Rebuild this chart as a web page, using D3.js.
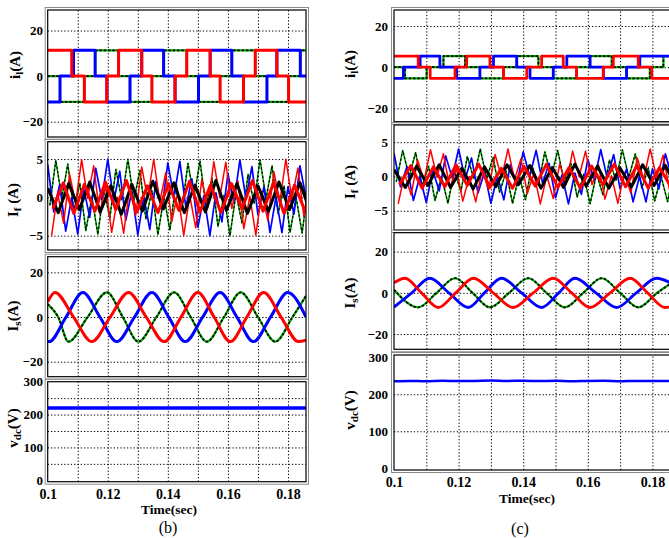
<!DOCTYPE html>
<html><head><meta charset="utf-8">
<script src="https://cdn.jsdelivr.net/npm/d3@7"></script>
<style>
body{margin:0;background:#fff}
svg{display:block}
text{font-family:"Liberation Serif","Times New Roman",serif;fill:#000}
</style>
</head><body>
<svg id="chart" width="669" height="538"></svg>
<script>
// ---------------- DATA ----------------
const timeDomain = [0.1, 0.186];
const xTickValues = [0.1, 0.12, 0.14, 0.16, 0.18];
const xGridValues = [0.11, 0.12, 0.13, 0.14, 0.15, 0.16, 0.17, 0.18];
const currentTicks = [-20, 0, 20];
const filterTicks = [-5, 0, 5];
const vdcTicks = [0, 100, 200, 300];
const vdcGridB = [50, 100, 150, 200, 250];
const vdcGridC = [100, 200];

// load current i_l (step levels, [time, A]) - case (b)
const iLRedB = [[0.1,11.3],[0.1080,0],[0.1122,-11.3],[0.1197,0],[0.1236,11.3],[0.1313,0],[0.1347,-11.3],[0.1424,0],[0.1463,11.3],[0.1541,0],[0.1574,-11.3],[0.1652,0],[0.1691,11.3],[0.1763,0],[0.1802,-11.3],[0.186,-11.3]];
const iLBlueB = [[0.1,-11.3],[0.1041,0],[0.1086,11.3],[0.1158,0],[0.1197,-11.3],[0.1274,0],[0.1313,11.3],[0.1386,0],[0.1424,-11.3],[0.1502,0],[0.1541,11.3],[0.1613,0],[0.1652,-11.3],[0.1730,0],[0.1763,11.3],[0.1841,0],[0.186,0]];
const iLGreenB = [[0.1,0],[0.1041,-11.3],[0.1122,0],[0.1158,11.3],[0.1236,0],[0.1274,-11.3],[0.1347,0],[0.1386,11.3],[0.1463,0],[0.1502,-11.3],[0.1574,0],[0.1613,11.3],[0.1691,0],[0.1730,-11.3],[0.1802,0],[0.1841,11.3],[0.186,11.3]];
// case (c)
const iLRedC = [[0.1,5.4],[0.1075,0],[0.1112,-5.4],[0.1189,0],[0.1225,5.4],[0.1297,0],[0.1339,-5.4],[0.1411,0],[0.1457,5.4],[0.1524,0],[0.1565,-5.4],[0.1648,0],[0.1679,5.4],[0.1756,0],[0.1798,-5.4],[0.186,-5.4]];
const iLBlueC = [[0.1,-5.4],[0.1029,0],[0.1081,5.4],[0.1142,0],[0.1194,-5.4],[0.1266,0],[0.1308,5.4],[0.1380,0],[0.1421,-5.4],[0.1493,0],[0.1535,5.4],[0.1607,0],[0.1648,-5.4],[0.1720,0],[0.1761,5.4],[0.186,5.4]];
const iLGreenC = [[0.1,0],[0.1034,-5.4],[0.1101,0],[0.1153,5.4],[0.1220,0],[0.1266,-5.4],[0.1339,0],[0.1380,5.4],[0.1447,0],[0.1493,-5.4],[0.1565,0],[0.1607,5.4],[0.1674,0],[0.1720,-5.4],[0.1792,0],[0.1834,5.4],[0.186,5.4]];

// filter current I_f : vertex values at a fixed sampling step
const ifStep = 0.002;
const ifStart = {blue:0.1, green:0.1007, red:0.1013};
const ifBlueB = [4.3,-1.9,1.7,-4.4,0,-4.8,1.1,-2.6,3.8,-0.3,5.0,-0.5,3.4,-3.0,0.8,-4.9,0.1,-4.2,2.1,-1.5,4.5,0,4.7,-1.3,2.4,-3.9,0.2,-5.0,0.6,-3.2,3.1,-0.7,4.9,-0.2,4.0,-2.3,1.4,-4.6,0,-4.6,1.4,-2.2,4.1,-0.1];
const ifGreenB = [-1.05,4.81,-0.03,4.37,-1.79,1.83,-4.35,0.04,-4.82,1.02,-2.69,3.66,-0.34,5.0,-0.42,3.53,-2.83,0.91,-4.87,0.07,-4.25,1.96,-1.66,4.46,-0.02,4.75,-1.16,2.52,-3.81,0.26,-4.99,0.52,-3.37,3.0,-0.78,4.92,-0.12,4.12,-2.13,1.5,-4.56,0.0,-4.67,1.31];
const ifRedB = [-4.99,0.52,-3.37,3.0,-0.78,4.92,-0.12,4.12,-2.13,1.5,-4.56,0.0,-4.67,1.31,-2.34,3.96,-0.19,4.97,-0.63,3.21,-3.17,0.65,-4.96,0.18,-3.98,2.31,-1.34,4.66,0.0,4.58,-1.47,2.17,-4.09,0.13,-4.93,0.75,-3.04,3.34,-0.54,4.98,-0.25,3.84,-2.48,1.19];
const ifThickStep = 0.0035;
const ifThickStart = {black:0.1, red:0.1017};
const ifThickBlackB = [1.2,-2.0,1.8,-1.6,2.0,-1.9,1.5,-2.2,1.7,-1.8,2.1,-1.5,1.9,-2.0,1.6,-1.9,2.2,-1.7,1.8,-2.1,1.5,-1.8,2.0,-1.6,1.9,-2.0];
const ifThickRedB = [-1.5,1.9,-2.1,1.7,-1.8,2.0,-1.6,2.2,-1.9,1.5,-2.0,1.8,-1.7,2.1,-1.9,1.6,-2.0,1.8,-1.5,2.2,-1.8,1.9,-2.1,1.6,-1.8,1.7];
const ifBlueC = [3.4,-1.5,1.4,-3.5,0,-3.8,0.9,-2.1,3.0,-0.2,4.0,-0.4,2.7,-2.4,0.6,-3.9,0.1,-3.4,1.7,-1.2,3.6,0,3.8,-1.0,1.9,-3.1,0.2,-4.0,0.5,-2.6,2.5,-0.6,3.9,-0.2,3.2,-1.8,1.1,-3.7,0,-3.7,1.1,-1.8,3.3,-0.1];
const ifGreenC = [-0.8,3.8,0,3.5,-1.4,1.5,-3.5,0,-3.9,0.8,-2.2,2.9,-0.3,4.0,-0.3,2.8,-2.3,0.7,-3.9,0.1,-3.4,1.6,-1.3,3.6,0,3.8,-0.9,2.0,-3.0,0.2,-4.0,0.4,-2.7,2.4,-0.6,3.9,-0.1,3.3,-1.7,1.2,-3.6,0,-3.7,1.0];
const ifRedC = [-4.0,0.4,-2.7,2.4,-0.6,3.9,-0.1,3.3,-1.7,1.2,-3.6,0,-3.7,1.0,-1.9,3.2,-0.2,4.0,-0.5,2.6,-2.5,0.5,-4.0,0.1,-3.2,1.8,-1.1,3.7,0,3.7,-1.2,1.7,-3.3,0.1,-3.9,0.6,-2.4,2.7,-0.4,4.0,-0.2,3.1,-2.0,1.0];
const ifThickBlackC = [1.0,-1.6,1.5,-1.3,1.7,-1.6,1.2,-1.8,1.4,-1.5,1.7,-1.2,1.6,-1.7,1.3,-1.6,1.8,-1.4,1.5,-1.7,1.2,-1.5,1.7,-1.3,1.6,-1.6];
const ifThickRedC = [-1.2,1.6,-1.7,1.4,-1.5,1.7,-1.3,1.8,-1.6,1.2,-1.7,1.5,-1.4,1.8,-1.6,1.3,-1.7,1.5,-1.2,1.8,-1.5,1.6,-1.7,1.3,-1.5,1.4];

// source current I_s ([time, A] at extrema and zero crossings)
const isRedB = [[0.1,6.8],[0.1024,11],[0.1086,0],[0.1147,-11],[0.1208,0],[0.1269,11],[0.1328,0],[0.1388,-11],[0.1444,0],[0.15,11],[0.1554,0],[0.1608,-11],[0.1663,0],[0.1719,11],[0.1777,0],[0.1835,-11],[0.186,-10.4]];
const isBlueB = [[0.1,-10.9],[0.1005,-11],[0.1061,0],[0.1117,11],[0.1174,0],[0.123,-11],[0.1289,0],[0.1347,11],[0.1403,0],[0.1458,-11],[0.1516,0],[0.1574,11],[0.163,0],[0.1685,-11],[0.1742,0],[0.1799,11],[0.186,0]];
const isGreenB = [[0.1,5.8],[0.1035,0],[0.1069,-11],[0.1133,0],[0.1197,11],[0.125,0],[0.1302,-11],[0.1362,0],[0.1421,11],[0.1476,0],[0.153,-11],[0.1587,0],[0.1643,11],[0.17,0],[0.1758,-11],[0.1815,0],[0.186,9.5]];
const isRedC = [[0.1,4.9],[0.1034,7.1],[0.1085,0],[0.1137,-7.1],[0.1191,0],[0.1246,7.1],[0.1307,0],[0.1369,-7.1],[0.1431,0],[0.1493,7.1],[0.155,0],[0.1607,-7.1],[0.1669,0],[0.1731,7.1],[0.1785,0],[0.1839,-7.1],[0.186,-6.8]];
const isBlueC = [[0.1,-6.9],[0.1055,0],[0.1111,7.1],[0.117,0],[0.123,-7.1],[0.128,0],[0.1333,7.1],[0.1395,0],[0.1457,-7.1],[0.151,0],[0.156,7.1],[0.1625,0],[0.1689,-7.1],[0.175,0],[0.1813,7.1],[0.186,4.5]];
const isGreenC = [[0.1,1.5],[0.1075,-7],[0.1132,0],[0.1189,7.1],[0.1243,0],[0.1297,-7],[0.1356,0],[0.1416,7.1],[0.1472,0],[0.1529,-7],[0.1586,0],[0.1643,7.1],[0.17,0],[0.1756,-7],[0.1815,0],[0.186,4.9]];

// dc-link voltage
const vdcB = [[0.1,220],[0.186,220]];
const vdcC = [[0.1,235],[0.105,236],[0.11,235],[0.115,236.5],[0.12,235.5],[0.125,236],[0.13,237],[0.135,236],[0.14,236.5],[0.145,235.5],[0.15,236.5],[0.155,235],[0.16,236],[0.165,236.5],[0.17,235],[0.175,236],[0.18,235.5],[0.186,236]];

// ---------------- DRAWING ----------------
const svg = d3.select('#chart');
const RED = '#ff0000', BLUE = '#0000ff', GREEN = '#00b000';

const xB = d3.scaleLinear().domain(timeDomain).range([47.7, 306]);
const xC = d3.scaleLinear().domain(timeDomain).range([394, 671.8]);

const stepPts = (start, step, vals) => vals.map((v, i) => [start + i * step, v]);

const panels = [
  {x:xB, y0:10, y1:137, dom:[-26.7,29], ticks:currentTicks, grid:currentTicks, lab:['i','l','(A)'], lx:15, ly:65, tx:43,
   series:[
     {d:iLGreenB, c:GREEN, w:2.2, dots:true, curve:d3.curveStepAfter},
     {d:iLBlueB, c:BLUE, w:3, curve:d3.curveStepAfter},
     {d:iLRedB, c:RED, w:3, curve:d3.curveStepAfter}]},
  {x:xB, y0:141.7, y1:250, dom:[-6.87,7.26], ticks:filterTicks, grid:filterTicks, lab:['I','f',' (A)'], lx:13, ly:200, tx:43,
   series:[
     {d:stepPts(ifStart.green, ifStep, ifGreenB), c:GREEN, w:1.5, dots:true},
     {d:stepPts(ifStart.blue, ifStep, ifBlueB), c:BLUE, w:1.7},
     {d:stepPts(ifStart.red, ifStep, ifRedB), c:RED, w:1.5},
     {d:stepPts(ifThickStart.black, ifThickStep, ifThickBlackB), c:'#000', w:3},
     {d:stepPts(ifThickStart.red, ifThickStep, ifThickRedB), c:RED, w:3}]},
  {x:xB, y0:256.7, y1:376.7, dom:[-26.7,27], ticks:currentTicks, grid:currentTicks, lab:['I','s','(A)'], lx:13, ly:316, tx:43,
   series:[
     {d:isGreenB, c:GREEN, w:2.2, dots:true, curve:d3.curveMonotoneX},
     {d:isBlueB, c:BLUE, w:3, curve:d3.curveMonotoneX},
     {d:isRedB, c:RED, w:3, curve:d3.curveMonotoneX}]},
  {x:xB, y0:381.7, y1:481.7, dom:[-4.3,300], ticks:vdcTicks, grid:vdcGridB, lab:['v','dc','(V)'], lx:13, ly:428, tx:43, xAxis:500, xTitle:[169,514], cap:['(b)',168,533],
   series:[{d:vdcB, c:BLUE, w:3.5}]},

  {x:xC, y0:10, y1:121.7, dom:[-26.5,27.8], ticks:currentTicks, grid:currentTicks, lab:['i','l','(A)'], lx:350, ly:64, tx:388,
   series:[
     {d:iLGreenC, c:GREEN, w:2.2, dots:true, curve:d3.curveStepAfter},
     {d:iLBlueC, c:BLUE, w:2.8, curve:d3.curveStepAfter},
     {d:iLRedC, c:RED, w:2.8, curve:d3.curveStepAfter}]},
  {x:xC, y0:125, y1:230, dom:[-7.8,7.5], ticks:filterTicks, grid:filterTicks, lab:['I','f',' (A)'], lx:350, ly:182, tx:388,
   series:[
     {d:stepPts(ifStart.green, ifStep, ifGreenC), c:GREEN, w:1.5, dots:true},
     {d:stepPts(ifStart.blue, ifStep, ifBlueC), c:BLUE, w:1.7},
     {d:stepPts(ifStart.red, ifStep, ifRedC), c:RED, w:1.5},
     {d:stepPts(ifThickStart.black, ifThickStep, ifThickBlackC), c:'#000', w:3},
     {d:stepPts(ifThickStart.red, ifThickStep, ifThickRedC), c:RED, w:3}]},
  {x:xC, y0:232.7, y1:349.3, dom:[-27.4,29.2], ticks:currentTicks, grid:currentTicks, lab:['I','s','(A)'], lx:350, ly:293, tx:388,
   series:[
     {d:isGreenC, c:GREEN, w:2.2, dots:true, curve:d3.curveMonotoneX},
     {d:isBlueC, c:BLUE, w:2.8, curve:d3.curveMonotoneX},
     {d:isRedC, c:RED, w:2.8, curve:d3.curveMonotoneX}]},
  {x:xC, y0:355, y1:470, dom:[-4.6,306], ticks:vdcTicks, grid:vdcGridC, lab:['v','dc','(V)'], lx:350, ly:410, tx:388, xAxis:488, xTitle:[527,503], cap:['(c)',520,534],
   series:[{d:vdcC, c:BLUE, w:2.5, curve:d3.curveMonotoneX}]}
];

const fmtY = d => (d < 0 ? '\u2212' + Math.abs(d) : String(d));
const fmtX = d => String(+d.toFixed(2));

panels.forEach((p, k) => {
  const x = p.x;
  const [xl, xr] = x.range();
  const y = d3.scaleLinear().domain(p.dom).range([p.y1, p.y0]);
  const g = svg.append('g');
  const clipId = 'clip' + k;
  svg.append('clipPath').attr('id', clipId).append('rect')
    .attr('x', xl).attr('y', p.y0).attr('width', xr - xl).attr('height', p.y1 - p.y0);

  // vertical grid
  g.append('g').attr('transform', `translate(0,${p.y1})`)
    .call(d3.axisBottom(x).tickValues(xGridValues).tickSize(-(p.y1 - p.y0)).tickFormat(''))
    .call(s => { s.select('.domain').remove();
      s.selectAll('line').attr('stroke', '#000').attr('stroke-width', 1).attr('stroke-dasharray', '1.3,2'); });
  // horizontal grid
  g.append('g').attr('transform', `translate(${xl},0)`)
    .call(d3.axisRight(y).tickValues(p.grid).tickSize(xr - xl).tickFormat(''))
    .call(s => { s.select('.domain').remove();
      s.selectAll('line').attr('stroke', '#000').attr('stroke-width', 1).attr('stroke-dasharray', '1.3,2'); });

  // series
  const sg = g.append('g').attr('clip-path', `url(#${clipId})`);
  p.series.forEach(s => {
    const line = d3.line().x(d => x(d[0])).y(d => y(d[1])).curve(s.curve || d3.curveLinear);
    sg.append('path').attr('d', line(s.d)).attr('fill', 'none')
      .attr('stroke', s.c).attr('stroke-width', s.w).attr('stroke-linejoin', 'round');
    if (s.dots) {
      sg.append('path').attr('d', line(s.d)).attr('fill', 'none')
        .attr('stroke', '#000').attr('stroke-width', s.w * 0.8).attr('stroke-dasharray', '2.5,1.8');
    }
  });

  // frame
  g.append('rect').attr('x', xl - 2.5).attr('y', p.y0 - 2.5).attr('width', xr - xl + 5).attr('height', p.y1 - p.y0 + 5)
    .attr('fill', 'none').attr('stroke', '#8a8a8a').attr('stroke-width', 1);
  g.append('rect').attr('x', xl).attr('y', p.y0).attr('width', xr - xl).attr('height', p.y1 - p.y0)
    .attr('fill', 'none').attr('stroke', '#000').attr('stroke-width', 1.2);

  // y tick labels
  g.append('g').attr('transform', `translate(${p.tx},0)`)
    .call(d3.axisLeft(y).tickValues(p.ticks).tickSize(0).tickPadding(0).tickFormat(fmtY))
    .call(s => { s.select('.domain').remove();
      s.selectAll('text').attr('font-size', 13).attr('font-weight', 'bold')
        .attr('font-family', '"Liberation Serif", serif').attr('fill', '#000'); });

  // y label
  const t = g.append('text').attr('transform', `translate(${p.lx},${p.ly}) rotate(-90)`)
    .attr('text-anchor', 'middle').attr('dy', '0.35em').attr('font-size', 15).attr('font-weight', 'bold');
  t.append('tspan').text(p.lab[0]);
  t.append('tspan').attr('dy', 3).attr('font-size', 11).text(p.lab[1]);
  t.append('tspan').attr('dy', -3).text(p.lab[2]);

  if (p.xAxis) {
    g.append('g').attr('transform', `translate(0,${p.xAxis - 11})`)
      .call(d3.axisBottom(x).tickValues(xTickValues).tickSize(0).tickPadding(0).tickFormat(fmtX))
      .call(s => { s.select('.domain').remove();
        s.selectAll('text').attr('font-size', 14).attr('font-weight', 'bold')
          .attr('font-family', '"Liberation Serif", serif').attr('fill', '#000').attr('dy', '0.71em'); });
    g.append('text').attr('x', p.xTitle[0]).attr('y', p.xTitle[1]).attr('text-anchor', 'middle')
      .attr('font-size', 13.5).attr('font-weight', 'bold').text('Time(sec)');
    g.append('text').attr('x', p.cap[1]).attr('y', p.cap[2]).attr('text-anchor', 'middle')
      .attr('font-size', 16).text(p.cap[0]);
  }
});
</script>
</body></html>
